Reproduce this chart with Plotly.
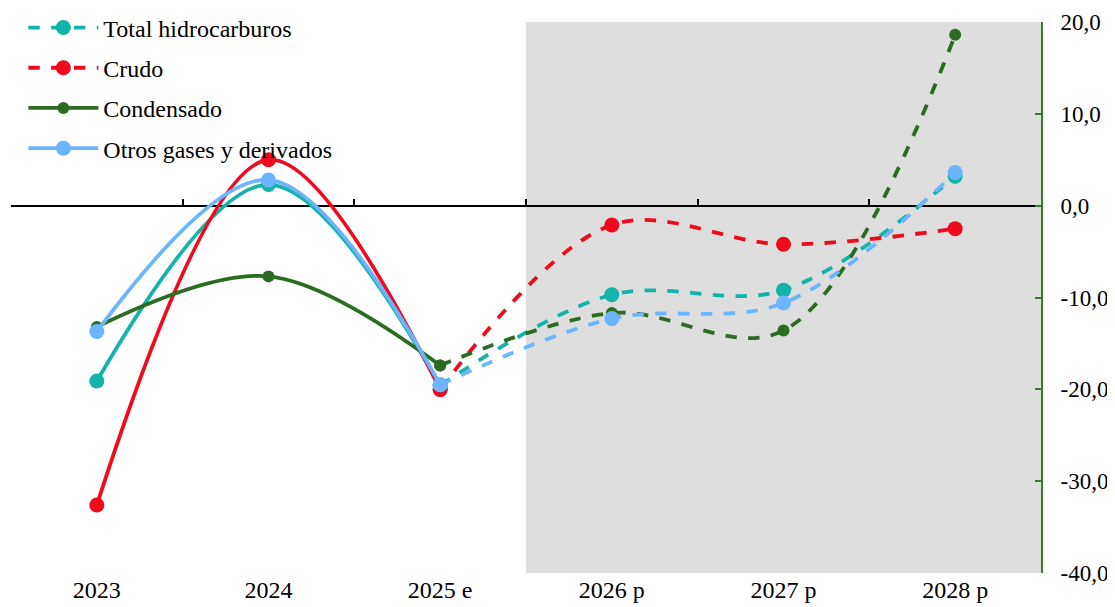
import plotly.graph_objects as go

categories = ["2023", "2024", "2025 e", "2026 p", "2027 p", "2028 p"]
total_hc = [-19.1, 2.3, -19.6, -9.7, -9.2, 3.2]
crudo = [-32.6, 5.0, -20.0, -2.1, -4.2, -2.5]
condensado = [-13.2, -7.7, -17.4, -11.7, -13.6, 18.6]
otros = [-13.7, 2.8, -19.5, -12.3, -10.6, 3.6]
y_ticks = [-40, -30, -20, -10, 0, 10, 20]
y_ticktext = [f"{v:.1f}".replace(".", ",") for v in y_ticks]
boundaries = [-0.5, 0.5, 1.5, 2.5, 3.5, 4.5, 5.5]

series = [
    ("Total hidrocarburos", total_hc, "#12B3A8", 15, "dash"),
    ("Crudo", crudo, "#EF0A1E", 15, "dash"),
    ("Condensado", condensado, "#2B6C22", 12, "solid"),
    ("Otros gases y derivados", otros, "#6CB4FB", 15, "solid"),
]

FONT = "Liberation Serif, Times New Roman, Tinos, serif"
FS = 24
xs = list(range(len(categories)))

fig = go.Figure()
fig.add_trace(go.Scatter(x=[None], y=[None], xaxis="x2", yaxis="y",
                         showlegend=False, hoverinfo="skip", mode="lines"))
for name, vals, color, msize, legend_style in series:
    fig.add_trace(go.Scatter(
        x=xs[:3], y=vals[:3], mode="lines+markers", name=name,
        legendgroup=name, showlegend=(legend_style == "solid"),
        line=dict(color=color, width=3.8, shape="spline", smoothing=1.0),
        marker=dict(color=color, size=msize),
    ))
    fig.add_trace(go.Scatter(
        x=xs[2:], y=vals[2:], mode="lines+markers", name=name,
        legendgroup=name, showlegend=(legend_style == "dash"),
        line=dict(color=color, width=3.8, shape="spline", smoothing=1.0, dash="dash"),
        marker=dict(color=color, size=msize),
    ))

fig.add_shape(type="rect", xref="x", yref="paper", x0=2.5, x1=5.5, y0=0, y1=1,
              fillcolor="#DEDEDE", line=dict(width=0), layer="below")

# page body has an 8px margin: compensate so the plot lands where the reference has it
fig.update_layout(
    width=1107, height=599,
    margin=dict(l=3, r=74, t=14, b=34, autoexpand=False),
    paper_bgcolor="white", plot_bgcolor="white",
    font=dict(family=FONT, size=FS, color="black"),
    showlegend=True,
    legend=dict(x=0.012, y=1.03, xanchor="left", yanchor="top",
                bgcolor="rgba(0,0,0,0)", font=dict(family=FONT, size=FS),
                traceorder="grouped", tracegroupgap=6, itemwidth=70),
    xaxis=dict(range=[-0.5, 5.5], tickmode="array", tickvals=xs, ticktext=categories,
               showline=False, showgrid=False, zeroline=False, ticks="",
               tickfont=dict(family=FONT, size=FS)),
    xaxis2=dict(overlaying="x", anchor="free", position=2/3, side="bottom",
                range=[-0.5, 5.5], tickmode="array", tickvals=boundaries,
                ticks="inside", ticklen=6, tickwidth=2, tickcolor="black",
                showline=True, linecolor="black", linewidth=2,
                showticklabels=False, showgrid=False, zeroline=False,
                layer="below traces"),
    yaxis=dict(side="right", range=[-40, 20], tickmode="array", tickvals=y_ticks,
               ticktext=y_ticktext, ticks="inside", ticklen=6, tickwidth=2,
               tickcolor="#3A7A2E", showline=True, linecolor="#3A7A2E", linewidth=2,
               showgrid=False, zeroline=False, ticklabelstandoff=13,
               tickfont=dict(family=FONT, size=23, color="black")),
)

fig.write_html("out.html")
